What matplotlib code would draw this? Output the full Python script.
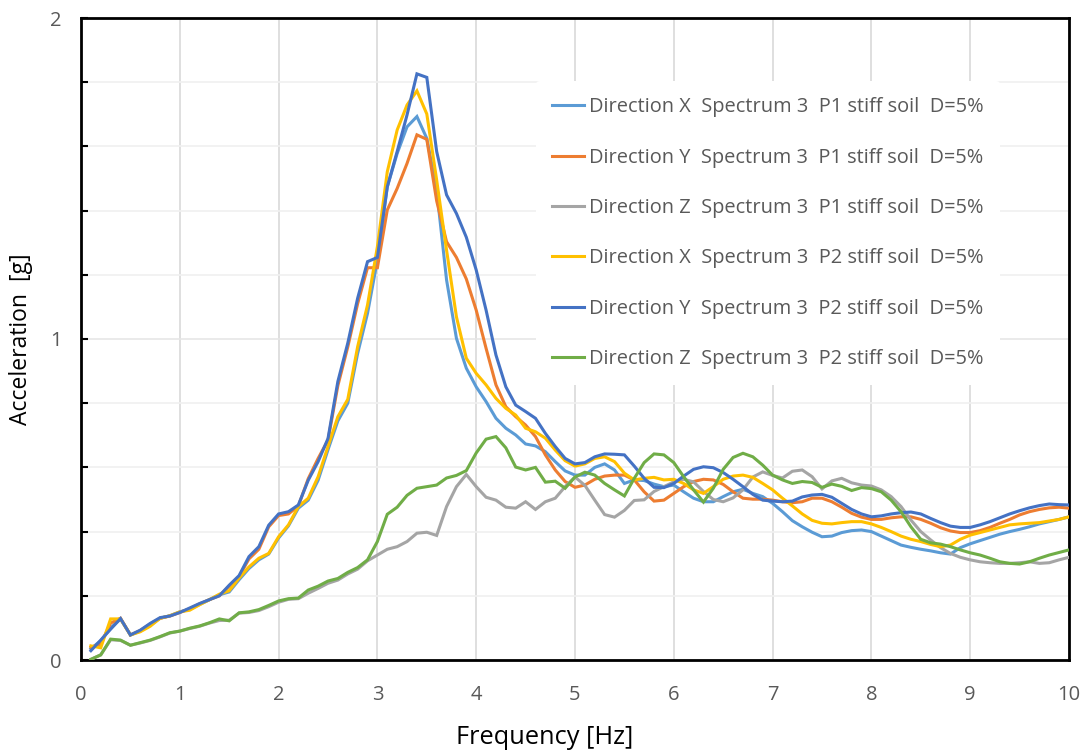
import numpy as np
import matplotlib
matplotlib.use("Agg")
import matplotlib.pyplot as plt
from matplotlib.ticker import MultipleLocator

freq = [round(0.1 * i, 1) for i in range(1, 101)]

p1_x = [0.035, 0.060, 0.100, 0.128, 0.078, 0.090, 0.108, 0.130, 0.138, 0.150,
        0.158, 0.173, 0.188, 0.203, 0.212, 0.250, 0.285, 0.312, 0.330, 0.380,
        0.418, 0.473, 0.498, 0.560, 0.655, 0.745, 0.800, 0.955, 1.080, 1.246,
        1.474, 1.578, 1.661, 1.693, 1.625, 1.464, 1.184, 1.002, 0.909, 0.851,
        0.805, 0.753, 0.722, 0.701, 0.673, 0.667, 0.649, 0.618, 0.589, 0.576,
        0.576, 0.600, 0.611, 0.592, 0.550, 0.561, 0.559, 0.548, 0.540, 0.545,
        0.524, 0.504, 0.493, 0.493, 0.509, 0.524, 0.532, 0.519, 0.509, 0.488,
        0.462, 0.434, 0.415, 0.398, 0.384, 0.386, 0.397, 0.403, 0.405, 0.400,
        0.386, 0.372, 0.358, 0.351, 0.345, 0.340, 0.334, 0.330, 0.350, 0.362,
        0.372, 0.382, 0.392, 0.400, 0.407, 0.415, 0.424, 0.431, 0.438, 0.446]

p1_y = [0.040, 0.050, 0.115, 0.130, 0.078, 0.092, 0.112, 0.130, 0.137, 0.148,
        0.160, 0.175, 0.188, 0.200, 0.230, 0.260, 0.315, 0.345, 0.415, 0.450,
        0.455, 0.480, 0.565, 0.628, 0.685, 0.855, 0.975, 1.110, 1.222, 1.222,
        1.402, 1.469, 1.547, 1.636, 1.622, 1.430, 1.303, 1.254, 1.187, 1.090,
        0.971, 0.857, 0.789, 0.758, 0.732, 0.696, 0.639, 0.592, 0.556, 0.538,
        0.545, 0.563, 0.573, 0.576, 0.576, 0.561, 0.524, 0.495, 0.498, 0.519,
        0.540, 0.556, 0.563, 0.561, 0.547, 0.524, 0.504, 0.501, 0.501, 0.498,
        0.493, 0.490, 0.493, 0.504, 0.504, 0.493, 0.476, 0.457, 0.445, 0.438,
        0.438, 0.443, 0.446, 0.446, 0.438, 0.426, 0.412, 0.402, 0.397, 0.397,
        0.403, 0.413, 0.426, 0.438, 0.452, 0.462, 0.469, 0.474, 0.476, 0.473]

p1_z = [0.002, 0.016, 0.063, 0.061, 0.046, 0.053, 0.061, 0.072, 0.084, 0.090,
        0.098, 0.105, 0.115, 0.123, 0.124, 0.146, 0.148, 0.154, 0.166, 0.180,
        0.189, 0.191, 0.208, 0.223, 0.239, 0.249, 0.268, 0.283, 0.309, 0.327,
        0.345, 0.353, 0.369, 0.395, 0.398, 0.388, 0.478, 0.540, 0.578, 0.540,
        0.507, 0.498, 0.476, 0.473, 0.493, 0.469, 0.493, 0.504, 0.540, 0.570,
        0.544, 0.498, 0.453, 0.445, 0.466, 0.497, 0.499, 0.525, 0.540, 0.555,
        0.563, 0.555, 0.525, 0.500, 0.493, 0.505, 0.530, 0.570, 0.586, 0.575,
        0.567, 0.588, 0.592, 0.571, 0.533, 0.558, 0.566, 0.552, 0.545, 0.542,
        0.530, 0.509, 0.478, 0.436, 0.400, 0.374, 0.350, 0.332, 0.320, 0.312,
        0.306, 0.303, 0.301, 0.301, 0.303, 0.306, 0.301, 0.303, 0.312, 0.320]

p2_x = [0.044, 0.038, 0.128, 0.128, 0.078, 0.088, 0.105, 0.130, 0.138, 0.150,
        0.155, 0.172, 0.188, 0.205, 0.216, 0.255, 0.290, 0.317, 0.332, 0.384,
        0.421, 0.478, 0.504, 0.571, 0.665, 0.758, 0.812, 0.976, 1.106, 1.288,
        1.521, 1.651, 1.729, 1.773, 1.701, 1.495, 1.277, 1.069, 0.940, 0.893,
        0.857, 0.815, 0.784, 0.763, 0.722, 0.711, 0.691, 0.654, 0.621, 0.604,
        0.611, 0.628, 0.633, 0.618, 0.582, 0.561, 0.566, 0.569, 0.561, 0.563,
        0.550, 0.530, 0.519, 0.540, 0.563, 0.573, 0.576, 0.569, 0.550, 0.530,
        0.504, 0.480, 0.455, 0.435, 0.426, 0.424, 0.428, 0.431, 0.431, 0.424,
        0.413, 0.400, 0.386, 0.376, 0.369, 0.360, 0.353, 0.358, 0.376, 0.389,
        0.397, 0.405, 0.413, 0.421, 0.424, 0.426, 0.428, 0.433, 0.438, 0.446]

p2_y = [0.029, 0.062, 0.096, 0.129, 0.078, 0.093, 0.114, 0.132, 0.137, 0.148,
        0.162, 0.176, 0.188, 0.200, 0.233, 0.263, 0.322, 0.353, 0.420, 0.455,
        0.462, 0.483, 0.560, 0.618, 0.690, 0.868, 0.987, 1.127, 1.241, 1.254,
        1.474, 1.584, 1.698, 1.826, 1.815, 1.584, 1.449, 1.391, 1.317, 1.215,
        1.090, 0.950, 0.851, 0.794, 0.774, 0.753, 0.706, 0.665, 0.628, 0.611,
        0.615, 0.633, 0.642, 0.641, 0.639, 0.604, 0.566, 0.538, 0.537, 0.550,
        0.573, 0.594, 0.602, 0.599, 0.584, 0.563, 0.540, 0.516, 0.498, 0.495,
        0.493, 0.495, 0.508, 0.514, 0.516, 0.507, 0.488, 0.469, 0.455, 0.446,
        0.449, 0.455, 0.459, 0.461, 0.455, 0.441, 0.428, 0.417, 0.413, 0.413,
        0.421, 0.431, 0.443, 0.455, 0.465, 0.474, 0.481, 0.486, 0.484, 0.483]

p2_z = [0.002, 0.016, 0.065, 0.062, 0.046, 0.054, 0.062, 0.073, 0.085, 0.090,
        0.099, 0.106, 0.116, 0.128, 0.122, 0.147, 0.150, 0.157, 0.170, 0.184,
        0.191, 0.193, 0.218, 0.230, 0.246, 0.254, 0.273, 0.288, 0.312, 0.369,
        0.454, 0.476, 0.513, 0.535, 0.540, 0.545, 0.567, 0.575, 0.590, 0.645,
        0.688, 0.696, 0.661, 0.601, 0.592, 0.600, 0.554, 0.557, 0.535, 0.570,
        0.585, 0.576, 0.550, 0.530, 0.511, 0.566, 0.615, 0.642, 0.639, 0.615,
        0.571, 0.530, 0.492, 0.535, 0.594, 0.631, 0.644, 0.633, 0.607, 0.576,
        0.561, 0.550, 0.556, 0.553, 0.538, 0.548, 0.541, 0.528, 0.537, 0.534,
        0.524, 0.498, 0.462, 0.415, 0.376, 0.365, 0.361, 0.353, 0.343, 0.334,
        0.327, 0.317, 0.306, 0.301, 0.299, 0.306, 0.317, 0.327, 0.335, 0.343]

labels = ["Direction X  Spectrum 3  P1 stiff soil  D=5%",
          "Direction Y  Spectrum 3  P1 stiff soil  D=5%",
          "Direction Z  Spectrum 3  P1 stiff soil  D=5%",
          "Direction X  Spectrum 3  P2 stiff soil  D=5%",
          "Direction Y  Spectrum 3  P2 stiff soil  D=5%",
          "Direction Z  Spectrum 3  P2 stiff soil  D=5%"]
series = [p1_x, p1_y, p1_z, p2_x, p2_y, p2_z]
colors = ["#5B9BD5", "#ED7D31", "#A5A5A5", "#FFC000", "#4472C4", "#70AD47"]

x_ticks = list(range(0, 11))
y_ticks = [0, 1, 2]

plt.rcParams['font.family'] = ['Open Sans', 'DejaVu Sans']
txt = "#595959"

fig = plt.figure(figsize=(10.87, 7.55), dpi=100)
ax = fig.add_axes([81/1087, 1 - 660/755, 988/1087, 642/755])

for y, c, lab in zip(series, colors, labels):
    ax.plot(freq, y, color=c, lw=2.2, label=lab, solid_joinstyle='miter', zorder=3)

ax.set_xlim(0, 10)
ax.set_ylim(0, 2)
ax.set_xticks(x_ticks)
ax.set_yticks(y_ticks)
ax.yaxis.set_minor_locator(MultipleLocator(0.2))
ax.grid(axis='x', which='major', color='#D9D9D9', lw=1.2, zorder=0)
ax.grid(axis='y', which='major', color='#E6E6E6', lw=1.2, zorder=0)
ax.grid(axis='y', which='minor', color='#F0F0F0', lw=1.2, zorder=0)
ax.tick_params(axis='x', length=0, pad=18, labelsize=14.5, labelcolor=txt)
ax.tick_params(axis='y', which='both', direction='in', length=5, width=1.5,
               color='black', labelsize=14.5, labelcolor=txt, pad=14)
for s in ax.spines.values():
    s.set_linewidth(2)
    s.set_color('black')
ax.set_axisbelow(True)

ax.set_xlabel("Frequency [Hz]", fontsize=18.3, color='black')
ax.xaxis.set_label_coords((545 - 81) / 988, -(737 - 660) / 642)
ax.xaxis.label.set_va('center')
ax.set_ylabel("Acceleration  [g]", fontsize=16.5, color='black', labelpad=12)

leg = ax.legend(loc='upper left', bbox_to_anchor=(0.4504, 0.917), frameon=True,
                facecolor='white', edgecolor='none', framealpha=1,
                fontsize=14.4, labelcolor=txt, handlelength=1.6,
                handletextpad=0.25, labelspacing=1.52, borderpad=0.8)
leg.set_zorder(5)

fig.savefig("out.png", dpi=100)
